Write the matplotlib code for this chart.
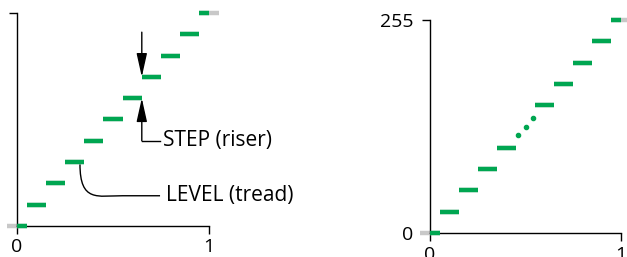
import numpy as np
import matplotlib
matplotlib.use('Agg')
import matplotlib.pyplot as plt
from matplotlib.path import Path
from matplotlib.patches import PathPatch

plt.rcParams['font.family'] = ['Open Sans', 'DejaVu Sans']

# staircase data
left_x = [0.0, 0.1, 0.2, 0.3, 0.4, 0.5, 0.6, 0.7, 0.8, 0.9, 1.0]
left_y = [0, 1, 2, 3, 4, 5, 6, 7, 8, 9, 10]
right_x = [0.0, 0.1, 0.2, 0.3, 0.4, 0.6, 0.7, 0.8, 0.9, 1.0]
right_y = [0, 25.5, 51, 76.5, 102, 153, 178.5, 204, 229.5, 255]
dots_x = [0.46, 0.50, 0.54]
dots_y = [117.3, 127.5, 137.7]
tread = 0.1

green = '#00a651'
grey = '#c8c8c8'


def draw_treads(ax, xs, ys):
    for x, y in zip(xs, ys):
        x0, x1 = x - tread / 2, x + tread / 2
        ax.plot([x0, x1], [y, y], color=grey, lw=3.2, solid_capstyle='butt',
                clip_on=False, zorder=2)
        ax.plot([max(x0, 0), min(x1, 1)], [y, y], color=green, lw=3.2,
                solid_capstyle='butt', clip_on=False, zorder=3)


def style(ax):
    for s in ['top', 'right']:
        ax.spines[s].set_visible(False)
    for s in ['left', 'bottom']:
        ax.spines[s].set_linewidth(1.0)
    ax.tick_params(length=6, width=1.0, labelsize=14)
    ax.tick_params(axis='x', pad=3)
    ax.tick_params(axis='y', pad=6)


fig = plt.figure(figsize=(6.27, 2.57), dpi=100)

ax1 = fig.add_axes([17 / 627, 31 / 257, 192 / 627, 213 / 257])
ax1.set_xlim(0, 1)
ax1.set_ylim(0, 10)
draw_treads(ax1, left_x, left_y)
style(ax1)
ax1.set_xticks([0, 1])
ax1.set_xticklabels(['0', '1'])
ax1.set_yticks([10])
ax1.set_yticklabels([''])

# STEP (riser) annotation
arw = dict(arrowstyle='-|>,head_width=0.2,head_length=0.9', color='black',
           lw=1.0, mutation_scale=16, shrinkA=0, shrinkB=0)
ax1.annotate('', xy=(0.65, 7.0), xytext=(0.65, 9.1), arrowprops=arw,
             annotation_clip=False)
ax1.annotate('', xy=(0.65, 6.0), xytext=(0.65, 4.0), arrowprops=arw,
             annotation_clip=False)
ax1.plot([0.65, 0.745], [4.0, 4.0], color='black', lw=1.0, clip_on=False)
ax1.text(0.76, 4.0, 'STEP (riser)', fontsize=15, va='center', ha='left')

# LEVEL (tread) annotation
verts = [(0.328, 2.9), (0.328, 1.1), (0.42, 1.42), (0.55, 1.42),
         (0.745, 1.42)]
codes = [Path.MOVETO, Path.CURVE4, Path.CURVE4, Path.CURVE4, Path.LINETO]
ax1.add_patch(PathPatch(Path(verts, codes), fc='none', ec='black', lw=1.0,
                        clip_on=False))
ax1.text(0.775, 1.42, 'LEVEL (tread)', fontsize=15, va='center', ha='left')

ax2 = fig.add_axes([430 / 627, 24 / 257, 191 / 627, 213 / 257])
ax2.set_xlim(0, 1)
ax2.set_ylim(0, 255)
draw_treads(ax2, right_x, right_y)
ax2.scatter(dots_x, dots_y, s=9, color=green, zorder=3, clip_on=False)
style(ax2)
ax2.set_xticks([0, 1])
ax2.set_xticklabels(['0', '1'])
ax2.set_yticks([0, 255])
ax2.set_yticklabels(['0', '255'])

fig.savefig('out.png', dpi=100)
